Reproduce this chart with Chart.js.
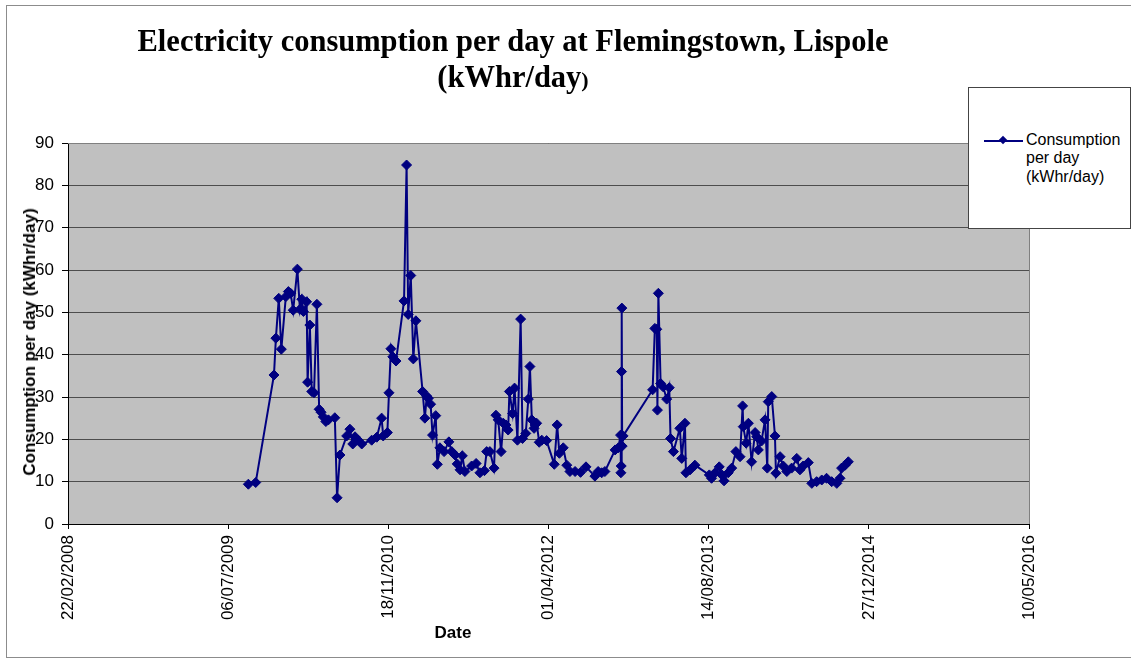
<!DOCTYPE html>
<html>
<head>
<meta charset="utf-8">
<script src="https://cdn.jsdelivr.net/npm/chart.js@4.4.1/dist/chart.umd.min.js"></script>
<style>
  body { margin: 0; background: #fff; }
  #wrap { position: relative; width: 1131px; height: 658px; overflow: hidden; font-family: "Liberation Sans", Arial, sans-serif; }
  #frame { position: absolute; left: 6px; top: 5px; width: 1200px; height: 651px; border: 1px solid #8c8c8c; }
  #chart { position: absolute; left: 0; top: 0; }
  #title { position: absolute; left: 0; width: 1026px; top: 23px; text-align: center; font: bold 30.5px "Liberation Serif", "Times New Roman", serif; line-height: 36px; }
  #title small { font-size: 22px; }
  #ytitle { position: absolute; left: 30px; top: 342px; transform: translate(-50%, -50%) rotate(-90deg); white-space: nowrap; font-weight: bold; font-size: 17px; }
  #xtitle { position: absolute; left: 453px; top: 633px; transform: translate(-50%, -50%); font-weight: bold; font-size: 17px; }
  #legend { position: absolute; left: 968px; top: 87px; width: 161px; height: 140px; border: 1px solid #444; background: #fff; }
  #legend .ln { position: absolute; left: 15px; top: 52px; width: 39px; height: 2px; background: #000080; }
  #legend .mk { position: absolute; left: 31px; top: 49px; width: 6px; height: 6px; background: #000080; transform: rotate(45deg); }
  #legend .tx { position: absolute; left: 57px; top: 43px; font-size: 16px; line-height: 18.3px; }
</style>
</head>
<body>
<div id="wrap">
  <div id="frame"></div>
  <canvas id="chart" width="1131" height="658"></canvas>
  <div id="title">Electricity consumption per day at Flemingstown, Lispole<br>(kWhr/day<small>)</small></div>
  <div id="ytitle">Consumption per day (kWhr/day)</div>
  <div id="xtitle">Date</div>
  <div id="legend"><div class="ln"></div><div class="mk"></div><div class="tx">Consumption<br>per day<br>(kWhr/day)</div></div>
</div>
<script>
// readings (date of reading, kWhr per day)
const readingDates = [
  "2009-09-07","2009-09-30","2009-11-26","2009-12-02","2009-12-11","2009-12-19",
  "2010-01-02","2010-01-10","2010-01-17","2010-01-25","2010-02-07","2010-02-15","2010-02-21","2010-02-26",
  "2010-03-08","2010-03-11","2010-03-18","2010-03-24","2010-03-31","2010-04-09","2010-04-16","2010-04-22",
  "2010-04-29","2010-05-07","2010-05-15","2010-06-04","2010-06-11","2010-06-20","2010-07-11","2010-07-21",
  "2010-07-30","2010-08-06","2010-08-16","2010-08-27","2010-09-27","2010-10-13","2010-10-28","2010-11-02",
  "2010-11-15","2010-11-20","2010-11-26","2010-12-02","2010-12-12",
  "2011-01-06","2011-01-14","2011-01-19","2011-01-27","2011-02-04","2011-02-12","2011-03-05","2011-03-12",
  "2011-03-18","2011-03-23","2011-03-30","2011-04-05","2011-04-15","2011-04-20","2011-04-28","2011-05-11",
  "2011-05-26","2011-06-04","2011-06-14","2011-06-21","2011-06-30","2011-07-07","2011-07-15","2011-08-05",
  "2011-08-19","2011-08-31","2011-09-14","2011-09-21","2011-10-01","2011-10-14","2011-10-20","2011-10-27",
  "2011-11-05","2011-11-12","2011-11-20","2011-11-27","2011-12-01","2011-12-11","2011-12-17","2011-12-26",
  "2012-01-05","2012-01-11","2012-01-21","2012-01-29","2012-02-03","2012-02-09","2012-02-16","2012-02-19",
  "2012-02-24","2012-03-03","2012-03-11","2012-03-26","2012-04-19","2012-04-28","2012-05-05","2012-05-17",
  "2012-05-28","2012-06-07","2012-06-23","2012-07-10","2012-07-27","2012-08-24","2012-09-03","2012-09-14",
  "2012-09-24","2012-10-26","2012-11-05","2012-11-12","2012-11-13","2012-11-14","2012-11-15","2012-11-16",
  "2012-11-17","2012-11-20",
  "2013-02-20","2013-02-27","2013-03-05","2013-03-07","2013-03-10","2013-03-17","2013-03-25","2013-04-05",
  "2013-04-13","2013-04-17","2013-04-26","2013-05-16","2013-05-22","2013-06-01","2013-06-04","2013-06-17",
  "2013-07-02","2013-08-16","2013-08-23","2013-09-03","2013-09-16","2013-09-24","2013-10-01","2013-10-14",
  "2013-10-25","2013-11-07","2013-11-20","2013-11-28","2013-11-30","2013-12-09","2013-12-16","2013-12-26",
  "2014-01-06","2014-01-11","2014-01-16","2014-01-26","2014-02-06","2014-02-13","2014-02-16","2014-02-27",
  "2014-03-09","2014-03-12","2014-03-25","2014-04-04","2014-04-15","2014-04-30","2014-05-16","2014-05-26",
  "2014-06-05","2014-06-21","2014-07-02","2014-07-17","2014-08-02","2014-08-17","2014-09-02","2014-09-18",
  "2014-09-28","2014-10-03","2014-10-14","2014-10-24"
];
const consumption = [
  9.4, 9.8, 35.2, 43.9, 53.3, 41.3,
  53.7, 54.9, 54.5, 50.5, 60.2, 50.7, 53.1, 50.2,
  52.5, 33.5, 47.0, 31.3, 31.0, 51.9, 27.1, 26.4,
  25.3, 24.2, 24.6, 25.1, 6.2, 16.3, 20.8, 22.4,
  18.9, 20.6, 19.8, 18.9, 19.8, 20.5, 25.0, 20.8,
  21.6, 31.0, 41.4, 39.5, 38.5,
  52.7, 84.8, 49.5, 58.7, 39.0, 48.0, 31.3, 25.0,
  30.2, 29.7, 28.3, 21.0, 25.6, 14.1, 18.0, 17.1,
  19.4, 17.1, 16.3, 14.2, 12.8, 16.1, 12.4, 13.7,
  14.3, 12.1, 12.6, 17.1, 17.1, 13.2, 25.7, 24.6,
  17.1, 23.8, 23.4, 22.2, 31.3, 26.1, 32.1, 19.8,
  48.4, 20.2, 21.4, 29.5, 37.2, 24.6, 22.6, 23.4,
  23.8, 19.3, 19.8, 19.7, 14.1, 23.4, 16.7, 18.0,
  13.9, 12.4, 12.4, 12.2, 13.5, 11.3, 12.4, 12.1,
  12.4, 17.5, 18.0, 21.0, 12.1, 13.7, 36.0, 51.0,
  18.4, 20.8,
  31.7, 46.2, 46.0, 26.9, 54.5, 33.2, 32.4, 29.5,
  32.2, 20.2, 17.1, 22.6, 15.5, 23.8, 12.1, 12.8,
  13.9, 11.6, 10.8, 12.1, 13.5, 11.6, 10.2, 12.1,
  13.2, 17.1, 15.9, 27.9, 23.0, 19.1, 23.8, 14.7,
  21.6, 20.6, 17.5, 19.6, 24.6, 13.2, 28.9, 30.1,
  20.8, 12.0, 15.9, 13.7, 12.4, 13.2, 15.5, 12.8,
  13.7, 14.5, 9.6, 10.0, 10.4, 10.8, 10.0, 9.6,
  10.8, 13.2, 13.9, 14.7
];
// x axis runs 22/02/2008 .. 10/05/2016 in 500 day steps (spreadsheet day numbers)
const xAxisStart = "2008-02-22";
const xAxisEnd = "2016-05-10";
const xStepDays = 500;
const yTicks = [0, 90, 10]; // min, max, step

const DAY = 86400000;
const EPOCH = Date.UTC(1899, 11, 30);
function toSerial(iso) {
  const [y, m, d] = iso.split("-").map(Number);
  return Math.round((Date.UTC(y, m - 1, d) - EPOCH) / DAY);
}
function fmtDate(serial) {
  const d = new Date(EPOCH + serial * DAY);
  const p = n => String(n).padStart(2, "0");
  return p(d.getUTCDate()) + "/" + p(d.getUTCMonth() + 1) + "/" + d.getUTCFullYear();
}

const points = readingDates.map((d, i) => ({ x: toSerial(d), y: consumption[i] }));

// grey plot area with a thin frame
const plotArea = {
  id: "plotArea",
  beforeDraw(chart) {
    const { ctx, chartArea: a } = chart;
    ctx.save();
    ctx.fillStyle = "#c0c0c0";
    ctx.fillRect(a.left, a.top, a.width, a.height);
    ctx.restore();
  },
  beforeDatasetsDraw(chart) {
    const { ctx, chartArea: a } = chart;
    ctx.save();
    ctx.strokeStyle = "#808080";
    ctx.lineWidth = 1;
    ctx.beginPath();
    ctx.moveTo(a.left, a.top + 0.5);
    ctx.lineTo(a.right + 0.5, a.top + 0.5);
    ctx.lineTo(a.right + 0.5, a.bottom);
    ctx.stroke();
    ctx.restore();
  }
};

const tickFont = { family: "'Liberation Sans', Arial, sans-serif", size: 17 };

new Chart(document.getElementById("chart").getContext("2d"), {
  type: "line",
  data: {
    datasets: [{
      label: "Consumption per day (kWhr/day)",
      data: points,
      borderColor: "#000080",
      backgroundColor: "#000080",
      borderWidth: 2,
      pointStyle: "rectRot",
      pointRadius: 5,
      pointBorderWidth: 1,
      tension: 0,
      fill: false
    }]
  },
  options: {
    responsive: false,
    animation: false,
    devicePixelRatio: 1,
    layout: { padding: { top: 143, right: 102, left: 0, bottom: 0 } },
    plugins: { legend: { display: false }, tooltip: { enabled: false }, title: { display: false } },
    scales: {
      x: {
        type: "linear",
        min: toSerial(xAxisStart),
        max: toSerial(xAxisEnd),
        afterFit: s => { s.height = 134; },
        border: { color: "#000", width: 1 },
        grid: { drawOnChartArea: false, drawTicks: true, tickLength: 5, tickColor: "#000" },
        ticks: {
          stepSize: xStepDays,
          autoSkip: false,
          minRotation: 90,
          maxRotation: 90,
          padding: 6,
          color: "#000",
          font: tickFont,
          callback: v => fmtDate(v)
        }
      },
      y: {
        min: yTicks[0],
        max: yTicks[1],
        afterFit: s => { s.width = 68; },
        border: { color: "#000", width: 1 },
        grid: { color: "#4d4d4d", lineWidth: 1, drawTicks: true, tickLength: 6, tickColor: "#000" },
        ticks: { stepSize: yTicks[2], padding: 8, color: "#000", font: tickFont }
      }
    }
  },
  plugins: [plotArea]
});
</script>
</body>
</html>
